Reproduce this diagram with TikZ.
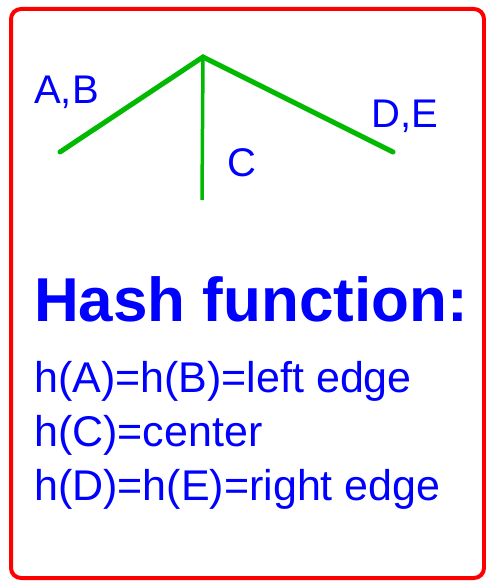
\documentclass[tikz,border=0pt]{standalone}
\usepackage{fontspec}
\setmainfont{Liberation Sans}
\usepackage{tikz}

\definecolor{hashblue}{RGB}{0,0,255}
\definecolor{treegreen}{RGB}{0,185,0}
\definecolor{framered}{RGB}{255,0,0}

\begin{document}
\begin{tikzpicture}[x=1pt, y=-1pt,
	label/.style={text=hashblue, font=\fontsize{40}{40}\selectfont, inner sep=0pt, anchor=base west},
	branch/.style={treegreen, line width=5pt, line cap=round}]
	\useasboundingbox (0,0) rectangle (485,583);
	% the frame
	\draw[framered, line width=4pt, rounded corners=10pt] (11,9) rectangle (484,578);
	% the tree with three branches
	\coordinate (top) at (203,57);
	\coordinate (left) at (60,152);
	\coordinate (mid) at (202,200);
	\coordinate (right) at (393,152);
	\draw[branch] (left) -- (top) -- (right);
	\draw[branch, line width=3.5pt, line cap=butt] (top) -- (mid);
	\node[label] (ab) at (34,103) {A,B};
	\node[label] (c) at (227,176) {C};
	\node[label] (de) at (371,128) {D,E};
	% the hash function
	\node[label, font=\fontsize{62}{62}\selectfont\bfseries] (head) at (34,321) {Hash function:};
	\node[label, font=\fontsize{43}{43}\selectfont] (hab) at (34,392) {h(A)=h(B)=left edge};
	\node[label, font=\fontsize{43}{43}\selectfont] (hc) at (34,446) {h(C)=center};
	\node[label, font=\fontsize{43}{43}\selectfont] (hde) at (34,500) {h(D)=h(E)=right edge};
\end{tikzpicture}
\end{document}
